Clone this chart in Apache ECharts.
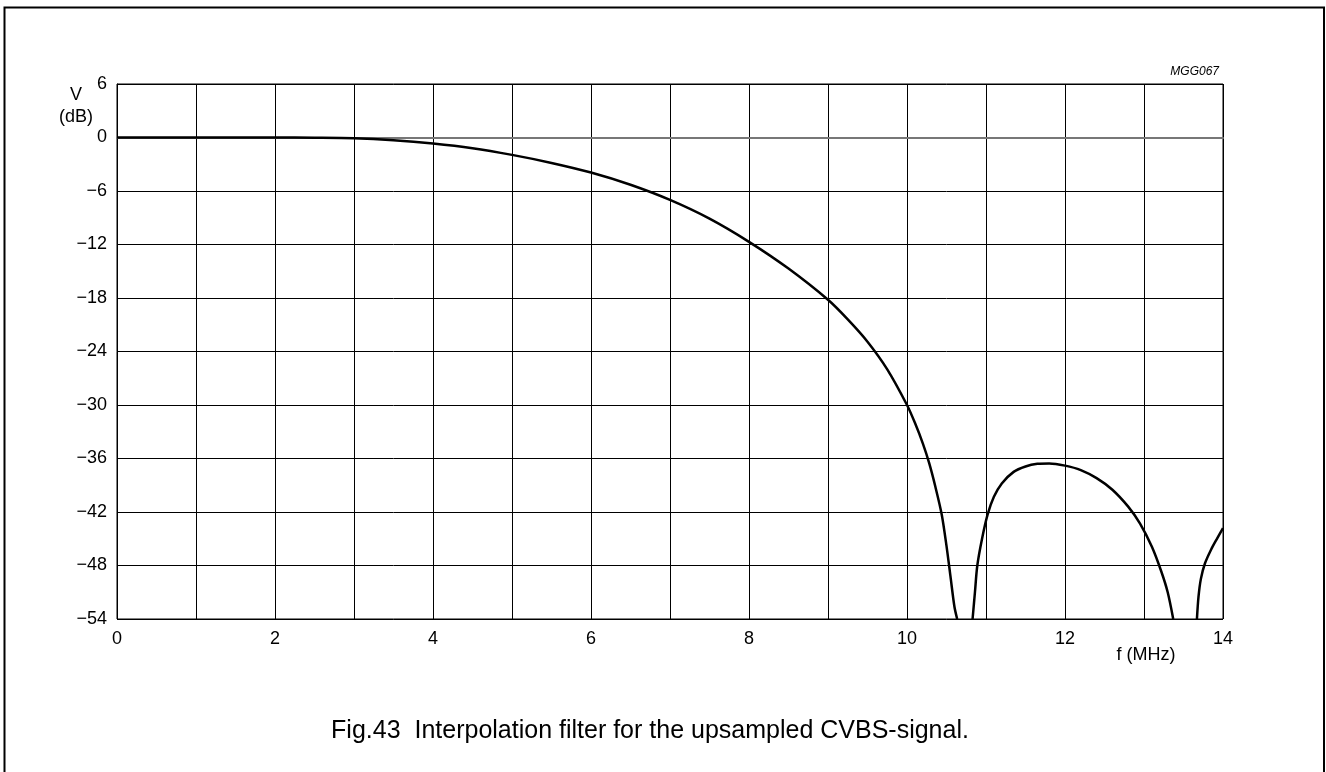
<!DOCTYPE html>
<html>
<head>
<meta charset="utf-8">
<script src="https://cdn.jsdelivr.net/npm/echarts@6/dist/echarts.min.js"></script>
<style>
html,body{margin:0;padding:0;background:#fff;}
#chart{width:1326px;height:772px;}
</style>
</head>
<body>
<div id="chart"></div>
<script>
// Frequency (MHz) and response (dB); null marks where the curve drops below the axis
var freqMHz = [0, 1, 2, 2.5, 3, 3.5, 4, 4.5, 5, 5.5, 6, 6.5, 7, 7.5, 8, 8.5, 9, 9.25, 9.5, 9.75, 10, 10.1, 10.2, 10.28, 10.36, 10.44, 10.5, 10.55, 10.6, 10.635,
  10.74,
  10.83, 10.86, 10.89, 10.95, 11.02, 11.1, 11.2, 11.35, 11.5, 11.65, 11.8, 12, 12.2, 12.4, 12.6, 12.8, 12.95, 13.1, 13.22, 13.3, 13.37,
  13.52,
  13.67, 13.69, 13.72, 13.77, 13.85, 13.93, 14];
var responseDB = [0, 0, 0, -0.02, -0.08, -0.3, -0.67, -1.2, -1.95, -2.85, -3.93, -5.3, -7.0, -9.1, -11.7, -14.7, -18.2, -20.4, -22.9, -26.0, -30, -32.0, -34.3, -36.5, -39.2, -42.3, -45.8, -49.2, -52.6, -54,
  null,
  -54, -51, -48, -45, -42.3, -40.3, -38.8, -37.5, -36.9, -36.6, -36.55, -36.8, -37.3, -38.2, -39.5, -41.4, -43.3, -45.9, -48.7, -51, -54,
  null,
  -54, -51.5, -49.5, -47.8, -46.2, -44.9, -43.8];
var xTicks = [0, 2, 4, 6, 8, 10, 12, 14];
var yTicks = [6, 0, -6, -12, -18, -24, -30, -36, -42, -48, -54];

var seriesData = freqMHz.map(function (f, i) { return [f, responseDB[i]]; });

var FONT = 'Liberation Sans, Arial, sans-serif';
var chart = echarts.init(document.getElementById('chart'), null, {renderer: 'canvas'});
chart.setOption({
  animation: false,
  backgroundColor: '#fff',
  grid: {left: 117, right: 103, top: 84, bottom: 153, show: true, borderColor: '#000', borderWidth: 1, containLabel: false},
  xAxis: {
    type: 'value', min: 0, max: 14, interval: 1,
    axisLine: {show: true, lineStyle: {color: '#777', width: 2}},
    axisTick: {show: false},
    splitLine: {show: true, lineStyle: {color: '#000', width: 1}},
    axisLabel: {
      color: '#000', fontFamily: FONT, fontSize: 18, margin: 11,
      formatter: function (v) { return xTicks.indexOf(v) >= 0 ? String(v) : ''; }
    }
  },
  yAxis: {
    type: 'value', min: -54, max: 6, interval: 6,
    axisLine: {show: true, lineStyle: {color: '#000', width: 1}},
    axisTick: {show: false},
    splitLine: {show: true, lineStyle: {color: '#000', width: 1}},
    axisLabel: {
      color: '#000', fontFamily: FONT, fontSize: 18, margin: 10,
      formatter: function (v) { return yTicks.indexOf(v) >= 0 ? String(v).replace('-', '\u2212') : ''; }
    }
  },
  series: [{
    type: 'line', data: seriesData, showSymbol: false, smooth: 0.3,
    connectNulls: false, clip: true,
    lineStyle: {color: '#000', width: 2.5}
  }],
  graphic: [
    {type: 'rect', shape: {x: 4.5, y: 7.5, width: 1319.5, height: 800}, style: {fill: null, stroke: '#000', lineWidth: 2}, silent: true},
    {type: 'text', x: 76, y: 86, style: {text: 'V', font: '18px ' + FONT, fill: '#000', textAlign: 'center'}},
    {type: 'text', x: 76, y: 108, style: {text: '(dB)', font: '18px ' + FONT, fill: '#000', textAlign: 'center'}},
    {type: 'text', x: 1146, y: 646, style: {text: 'f (MHz)', font: '18px ' + FONT, fill: '#000', textAlign: 'center'}},
    {type: 'text', x: 1219, y: 66, style: {text: 'MGG067', font: 'italic 12px ' + FONT, fill: '#000', textAlign: 'right'}},
    {type: 'text', x: 650, y: 719, style: {text: 'Fig.43  Interpolation filter for the upsampled CVBS-signal.', font: '25px ' + FONT, fill: '#000', textAlign: 'center'}}
  ]
});
</script>
</body>
</html>
